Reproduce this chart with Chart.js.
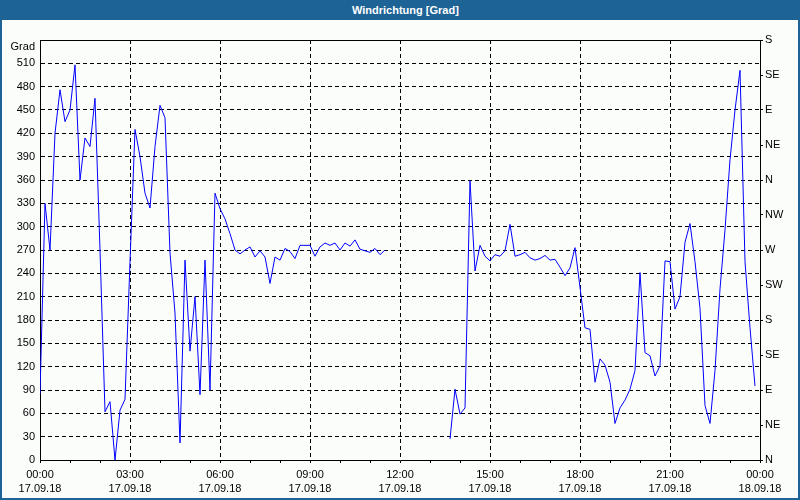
<!DOCTYPE html>
<html lang="de">
<head>
<meta charset="utf-8">
<title>Windrichtung [Grad]</title>
<script src="https://cdn.jsdelivr.net/npm/chart.js@4.4.0/dist/chart.umd.min.js"></script>
<style>
    html, body { margin: 0; padding: 0; }
    body {
        width: 800px; height: 500px; position: relative; overflow: hidden;
        background: #1d6396;
        font-family: "Liberation Sans", Arial, sans-serif;
    }
    #title {
        position: absolute; left: 352px; top: 0; height: 20px; line-height: 20px;
        color: #fff; font-weight: bold; font-size: 11px; white-space: nowrap;
    }
    #panel {
        position: absolute; left: 2px; top: 20px; width: 796px; height: 478px;
        background: #fbfdfb;
    }
    canvas { display: block; }
</style>
</head>
<body>
<div id="title">Windrichtung [Grad]</div>
<div id="panel"><canvas id="windChart" width="796" height="478"></canvas></div>
<script>
// Windrichtung in Grad, ein Wert alle 10 Minuten ab 17.09.18 00:00 (null = keine Daten)
const windDir = [
    85, 330, 270, 420, 476, 435, 450, 508, 360, 414, 403, 465,
    270, 62, 75, 0, 64, 78, 255, 425, 390, 343, 324, 403,
    456, 440, 266, 189, 22, 257, 140, 210, 84, 257, 90, 343,
    323, 310, 291, 270, 265, 270, 274, 261, 269, 261, 227, 261,
    257, 272, 268, 259, 276, 276, 276, 262, 274, 279, 276, 279,
    270, 279, 275, 283, 271, 269, 267, 272, 264, 270, null, null,
    null, null, null, null, null, null, null, null, null, null, 27, 91,
    59, 67, 359, 243, 276, 262, 256, 264, 262, 269, 303, 262,
    264, 267, 260, 257, 259, 263, 257, 258, 248, 237, 247, 273,
    222, 170, 168, 100, 130, 122, 100, 47, 67, 77, 91, 115,
    241, 138, 134, 108, 121, 256, 255, 194, 210, 280, 304, 255,
    195, 70, 47, 115, 220, 296, 386, 450, 501, 255, 170, 95
];
const stepMinutes = 10;

// Achsenbeschriftungen
const timeLabels = ["00:00", "03:00", "06:00", "09:00", "12:00", "15:00", "18:00", "21:00", "00:00"];
const dateLabels = ["17.09.18", "17.09.18", "17.09.18", "17.09.18", "17.09.18", "17.09.18", "17.09.18", "17.09.18", "18.09.18"];
const compassLabels = ["N", "NE", "E", "SE", "S", "SW", "W", "NW", "N", "NE", "E", "SE", "S"];

document.addEventListener("DOMContentLoaded", function () {
    const ctx = document.getElementById("windChart").getContext("2d");
    const font = { family: "'Liberation Sans', Arial, sans-serif", size: 11, lineHeight: 1.3 };
    const clear = "rgba(0,0,0,0)";

    // obere Rahmenlinie des Diagrammbereichs
    const frame = {
        id: "frame",
        beforeDatasetsDraw(chart) {
            const a = chart.chartArea;
            const c = chart.ctx;
            c.save();
            c.strokeStyle = "#000";
            c.lineWidth = 1;
            c.beginPath();
            c.moveTo(a.left, a.top + 0.5);
            c.lineTo(a.right, a.top + 0.5);
            c.stroke();
            c.restore();
        }
    };

    new Chart(ctx, {
        type: "line",
        data: {
            datasets: [{
                data: windDir.map((v, i) => ({ x: i * stepMinutes, y: v })),
                borderColor: "#0000ff",
                borderWidth: 1,
                pointRadius: 0,
                tension: 0,
                fill: false,
                spanGaps: false
            }]
        },
        options: {
            responsive: false,
            animation: false,
            layout: { padding: { top: 20, left: 0, right: 0, bottom: 0 } },
            plugins: { legend: { display: false }, tooltip: { enabled: false } },
            scales: {
                x: {
                    type: "linear",
                    min: 0,
                    max: 1440,
                    afterFit(s) { s.height = 38; },
                    ticks: {
                        stepSize: 60,
                        autoSkip: false,
                        maxRotation: 0,
                        padding: 5,
                        color: "#000",
                        font: font,
                        callback: (v) => v % 180 === 0 ? [timeLabels[v / 180], dateLabels[v / 180]] : ""
                    },
                    grid: {
                        color: (c) => (c.tick && c.tick.value % 180 === 0 && c.tick.value > 0 && c.tick.value < 1440) ? "#000" : clear,
                        tickColor: "#000",
                        tickLength: 3
                    },
                    border: { display: true, color: "#000", dash: [4, 3] }
                },
                y: {
                    position: "left",
                    min: 0,
                    max: 540,
                    afterFit(s) { s.width = 38; },
                    ticks: {
                        stepSize: 30,
                        autoSkip: false,
                        padding: 5,
                        color: "#000",
                        font: font,
                        callback: (v) => v === 540 ? ["", "Grad"] : v
                    },
                    grid: {
                        drawTicks: false,
                        color: (c) => (c.tick && c.tick.value > 0 && c.tick.value < 540) ? "#000" : clear
                    },
                    border: { display: true, color: "#000", dash: [4, 3] }
                },
                y1: {
                    position: "right",
                    min: 0,
                    max: 540,
                    afterFit(s) { s.width = 38; },
                    ticks: {
                        stepSize: 45,
                        autoSkip: false,
                        padding: 2,
                        color: "#000",
                        font: font,
                        callback: (v) => compassLabels[Math.round(v / 45)]
                    },
                    grid: { drawOnChartArea: false, tickLength: 3, tickColor: "#000" },
                    border: { display: true, color: "#000" }
                }
            }
        },
        plugins: [frame]
    });
});
</script>
</body>
</html>
